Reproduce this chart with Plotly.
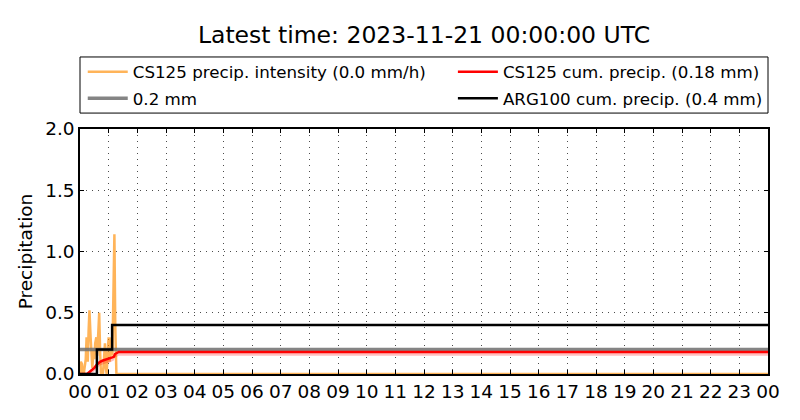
import plotly.graph_objects as go

# ---- data ----
hour_labels = ["00", "01", "02", "03", "04", "05", "06", "07", "08", "09", "10", "11",
               "12", "13", "14", "15", "16", "17", "18", "19", "20", "21", "22", "23", "00"]
hour_ticks = list(range(25))

# CS125 precipitation intensity (mm/h), time in hours
int_t = [0.0, 0.03, 0.07, 0.1, 0.13, 0.17, 0.2, 0.23, 0.27, 0.3, 0.33, 0.37, 0.4, 0.43,
         0.47, 0.5, 0.53, 0.57, 0.6, 0.63, 0.67, 0.7, 0.73, 0.77, 0.8, 0.83, 0.87, 0.9,
         0.93, 0.97, 1.0, 1.03, 1.07, 1.1, 1.13, 1.17, 1.2, 1.23, 1.27, 1.3, 1.35, 24.0]
int_v = [0.0, 0.1, 0.08, 0.0, 0.0, 0.05, 0.12, 0.3, 0.1, 0.35, 0.52, 0.3, 0.15, 0.05,
         0.2, 0.12, 0.25, 0.3, 0.15, 0.35, 0.5, 0.2, 0.0, 0.05, 0.0, 0.1, 0.25, 0.05,
         0.0, 0.2, 0.3, 0.1, 0.25, 0.3, 0.15, 0.6, 1.14, 0.4, 0.0, 0.0, 0.0, 0.0]

# CS125 cumulative precipitation (mm)
cum_t = [0.0, 0.25, 0.35, 0.5, 0.6, 0.7, 0.8, 0.93, 1.0, 1.1, 1.18, 1.22, 1.3, 1.35, 24.0]
cum_v = [0.0, 0.0, 0.02, 0.05, 0.08, 0.1, 0.11, 0.12, 0.12, 0.128, 0.14, 0.163, 0.17, 0.18, 0.18]

# ARG100 cumulative precipitation (mm), step
arg_t = [0.0, 0.59, 1.12, 24.0]
arg_v = [0.0, 0.2, 0.4, 0.4]

# 0.2 mm reference
ref_t = [0.0, 24.0]
ref_v = [0.2, 0.2]

fig = go.Figure()

fig.add_trace(go.Scatter(x=int_t, y=int_v, mode="lines",
                         line=dict(color="rgba(255,140,0,0.65)", width=2.5),
                         name="CS125 precip. intensity (0.0 mm/h)",
                         legend="legend", legendgroup="a"))
fig.add_trace(go.Scatter(x=ref_t, y=ref_v, mode="lines",
                         line=dict(color="rgba(110,110,110,0.85)", width=3.5),
                         name="0.2 mm", legend="legend", legendgroup="b"))
# pink band under the red line
band_lo = [max(v - 0.03, 0) for v in cum_v]
fig.add_trace(go.Scatter(x=cum_t, y=band_lo, mode="lines", line=dict(width=0),
                         showlegend=False, hoverinfo="skip"))
fig.add_trace(go.Scatter(x=cum_t, y=cum_v, mode="lines", line=dict(width=0),
                         fill="tonexty", fillcolor="rgba(255,0,0,0.25)",
                         showlegend=False, hoverinfo="skip"))
fig.add_trace(go.Scatter(x=cum_t, y=cum_v, mode="lines",
                         line=dict(color="red", width=2.5),
                         name="CS125 cum. precip. (0.18 mm)",
                         legend="legend2", legendgroup="c"))
fig.add_trace(go.Scatter(x=arg_t, y=arg_v, mode="lines", line_shape="hv",
                         line=dict(color="black", width=2.5),
                         name="ARG100 cum. precip. (0.4 mm)",
                         legend="legend2", legendgroup="d"))

axis_common = dict(showline=True, linecolor="black", linewidth=1.5, mirror="ticks",
                   ticks="inside", ticklen=4, tickcolor="black",
                   showgrid=True, gridcolor="rgba(0,0,0,0.7)", gridwidth=1,
                   griddash="1px,5px",
                   zeroline=False, tickfont=dict(size=18.5, color="black"),
                   automargin=False)

fig.update_xaxes(range=[0, 24], tickvals=hour_ticks, ticktext=hour_labels, **axis_common)
fig.update_yaxes(range=[0, 2], tickvals=[0, 0.5, 1.0, 1.5, 2.0], tickformat=".1f",
                 title=dict(text="Precipitation", font=dict(size=18.5, color="black"), standoff=8),
                 **axis_common)

legend_style = dict(orientation="v", yanchor="top", xanchor="left",
                    bgcolor="rgba(0,0,0,0)", borderwidth=0,
                    font=dict(size=16.7, color="black"), itemwidth=40,
                    traceorder="grouped", tracegroupgap=2)

fig.update_layout(
    width=800, height=420,
    margin=dict(l=80, r=32, t=129, b=46, autoexpand=False),
    paper_bgcolor="white", plot_bgcolor="white",
    font=dict(family="DejaVu Sans", color="black"),
    title=dict(text="Latest time: 2023-11-21 00:00:00 UTC", x=0.53, xanchor="center",
               y=0.918, yanchor="middle", font=dict(size=23.5, color="black")),
    legend=dict(x=0.004, y=1.305, **legend_style),
    legend2=dict(x=0.542, y=1.305, **legend_style),
    shapes=[dict(type="rect", xref="paper", yref="paper", x0=0, x1=1, y0=1.065, y1=1.294,
                 line=dict(color="black", width=1), fillcolor="rgba(0,0,0,0)", layer="above")],
    showlegend=True,
)

fig.write_html("out.html", config={"displayModeBar": False},
               post_script="document.body.style.margin='0';")
